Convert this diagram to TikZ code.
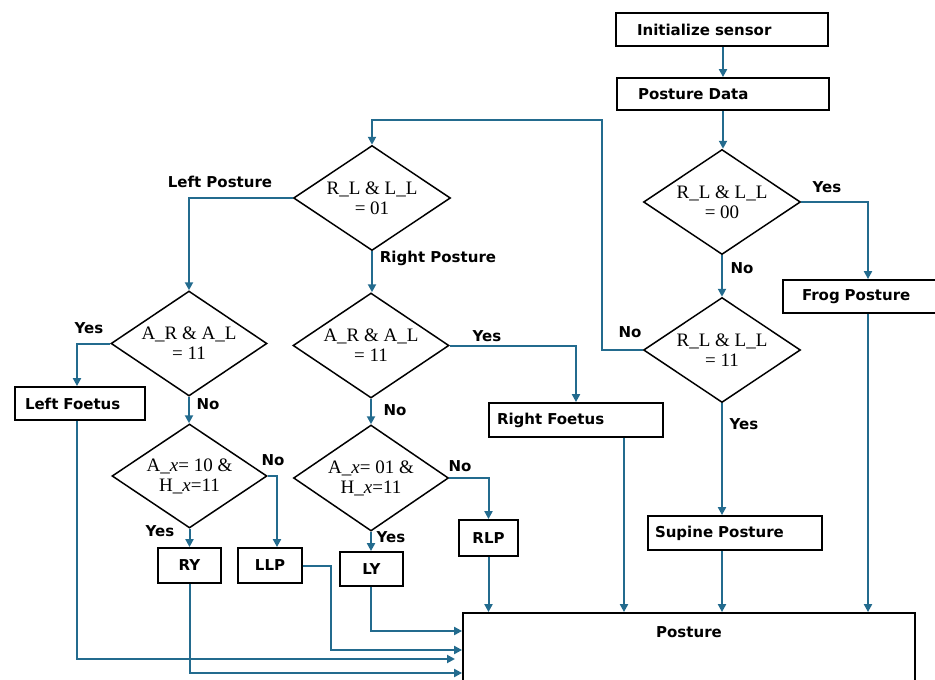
\documentclass[tikz,border=0pt]{standalone}
\usepackage{fontspec}
\setmainfont{DejaVu Sans}
\newfontfamily\condfont{Liberation Serif}
\usetikzlibrary{shapes.geometric,arrows.meta}
\definecolor{flow}{HTML}{236B8E}

\tikzset{
  box/.style={draw=black, line width=1.8pt, rectangle, inner ysep=0pt,
              font=\fontsize{15}{18}\selectfont\bfseries},
  smallbox/.style={box, inner xsep=0pt, align=center},
  dia/.style={draw=black, line width=1.5pt, diamond, inner sep=0pt,
              minimum width=157pt, minimum height=105pt},
  dtext/.style={align=center, inner sep=0pt,
                font=\condfont\fontsize{19}{20}\selectfont},
  lbl/.style={anchor=base, inner sep=0pt, font=\fontsize{15}{18}\selectfont\bfseries},
  flowline/.style={draw=flow, line width=2pt, -{Triangle[length=8pt,width=8pt]}},
}

\begin{document}
\begin{tikzpicture}[x=1pt,y=-1pt]
\useasboundingbox (0,0) rectangle (935,680);
\clip (0,0) rectangle (935,680);

% process boxes
\node[box, text width=170pt, inner xsep=21pt, minimum height=33pt, align=left] (init) at (722,29.5) {Initialize sensor};
\node[box, text width=170pt, inner xsep=21pt, minimum height=32pt, align=left] (pdata) at (723,94) {Posture Data};
\node[box, text width=132pt, inner xsep=19pt, minimum height=33pt, align=left] (frog) at (868,296.5) {Frog Posture};
\node[box, text width=110pt, inner xsep=10pt, minimum height=33pt, align=left] (lfoetus) at (80,403.5) {Left Foetus};
\node[box, text width=158pt, inner xsep=8pt, minimum height=34pt, align=left] (rfoetus) at (576,420) {Right Foetus};
\node[box, text width=160pt, inner xsep=7pt, minimum height=34pt, align=left] (supine) at (735,533) {Supine Posture};
\node[smallbox, minimum width=63pt, minimum height=35pt] (ry) at (189.5,565.5) {RY};
\node[smallbox, minimum width=64pt, minimum height=35pt] (llp) at (270,565.5) {LLP};
\node[smallbox, minimum width=63pt, minimum height=34pt] (ly) at (371.5,569) {LY};
\node[smallbox, minimum width=59pt, minimum height=36pt] (rlp) at (488.5,538) {RLP};
\node[box, minimum width=452pt, minimum height=90pt] (posture) at (689,658) {};
\node[lbl] (posturetext) at (689,637) {Posture};

% decisions
\node[dia] (d00) at (722,202) {};
\node[dtext] (d00t) at (d00) {R\_L \& L\_L\\= 00};
\node[dia] (d11) at (722,350) {};
\node[dtext] (d11t) at (d11) {R\_L \& L\_L\\= 11};
\node[dia] (d01) at (372,198) {};
\node[dtext] (d01t) at (d01) {R\_L \& L\_L\\= 01};
\node[dia, minimum width=156pt] (dl1) at (189,343.5) {};
\node[dtext] (dl1t) at (dl1) {A\_R \& A\_L\\= 11};
\node[dia, minimum width=156pt] (dr1) at (371,345.5) {};
\node[dtext] (dr1t) at (dr1) {A\_R \& A\_L\\= 11};
\node[dia, minimum width=155pt, minimum height=104pt] (dl2) at (189.5,476) {};
\node[dtext] (dl2t) at (dl2) {A\_\textit{x}= 10 \&\\H\_\textit{x}=11};
\node[dia, minimum width=155pt, minimum height=106pt] (dr2) at (371,478) {};
\node[dtext] (dr2t) at (dr2) {A\_\textit{x}= 01 \&\\H\_\textit{x}=11};

% helper points
\coordinate (loopc) at (602,120);
\coordinate (y631) at (0,631);
\coordinate (y650) at (0,650);
\coordinate (y673) at (0,673);
\coordinate (lfend) at (455,659);

% connectors
\draw[flowline] (init.south -| pdata.north) -- (pdata.north);
\draw[flowline] (pdata.south) -- (pdata.south |- d00.north);
\draw[flowline] (d00.east) -| (frog.north);
\draw[flowline] (d00.south) -- (d11.north);
\draw[flowline] (d11.south) -- (d11.south |- supine.north);
\draw[flowline] (d11.west) -| (loopc) -| (d01.north);
\draw[flowline] (frog.south) -- (frog.south |- posture.north);
\draw[flowline] (d11.south |- supine.south) -- (d11.south |- posture.north);
\draw[flowline] ([xshift=48pt]rfoetus.south) -- ([xshift=48pt]rfoetus.south |- posture.north);
\draw[flowline] (rlp.south) -- (rlp.south |- posture.north);
\draw[flowline] (d01.west) -| (dl1.north);
\draw[flowline] (d01.south) -- (d01.south |- dr1.north);
\draw[flowline] (dl1.west) -| ([xshift=-3pt]lfoetus.north);
\draw[flowline] (dl1.south) -- (dl1.south |- dl2.north);
\draw[flowline] (dl2.east) -| ([xshift=7pt]llp.north);
\draw[flowline] (dl2.south) -- (dl2.south |- ry.north);
\draw[flowline] (dr1.east) -| (rfoetus.north);
\draw[flowline] (dr1.south) -- (dr1.south |- dr2.north);
\draw[flowline] (dr2.east) -| (rlp.north);
\draw[flowline] (dr2.south) -- (dr2.south |- ly.north);
\draw[flowline] (dr2.south |- ly.south) |- (posture.west |- y631);
\draw[flowline] (llp.east) -- ++(28,0) |- (posture.west |- y650);
\draw[flowline] ([xshift=-3pt]lfoetus.south) |- (lfend);
\draw[flowline] (ry.south) |- (posture.west |- y673);

% branch labels
\node[lbl] (l1) at (827,192) {Yes};
\node[lbl] (l2) at (742,273) {No};
\node[lbl] (l3) at (630,337) {No};
\node[lbl] (l4) at (744,429) {Yes};
\node[lbl] (l5) at (220,187) {Left Posture};
\node[lbl] (l6) at (438,262) {Right Posture};
\node[lbl] (l7) at (89,333) {Yes};
\node[lbl] (l8) at (208,409) {No};
\node[lbl] (l9) at (273,465) {No};
\node[lbl] (l10) at (160,536) {Yes};
\node[lbl] (l11) at (487,341) {Yes};
\node[lbl] (l12) at (395,415) {No};
\node[lbl] (l13) at (460,471) {No};
\node[lbl] (l14) at (391,542) {Yes};
\end{tikzpicture}
\end{document}
